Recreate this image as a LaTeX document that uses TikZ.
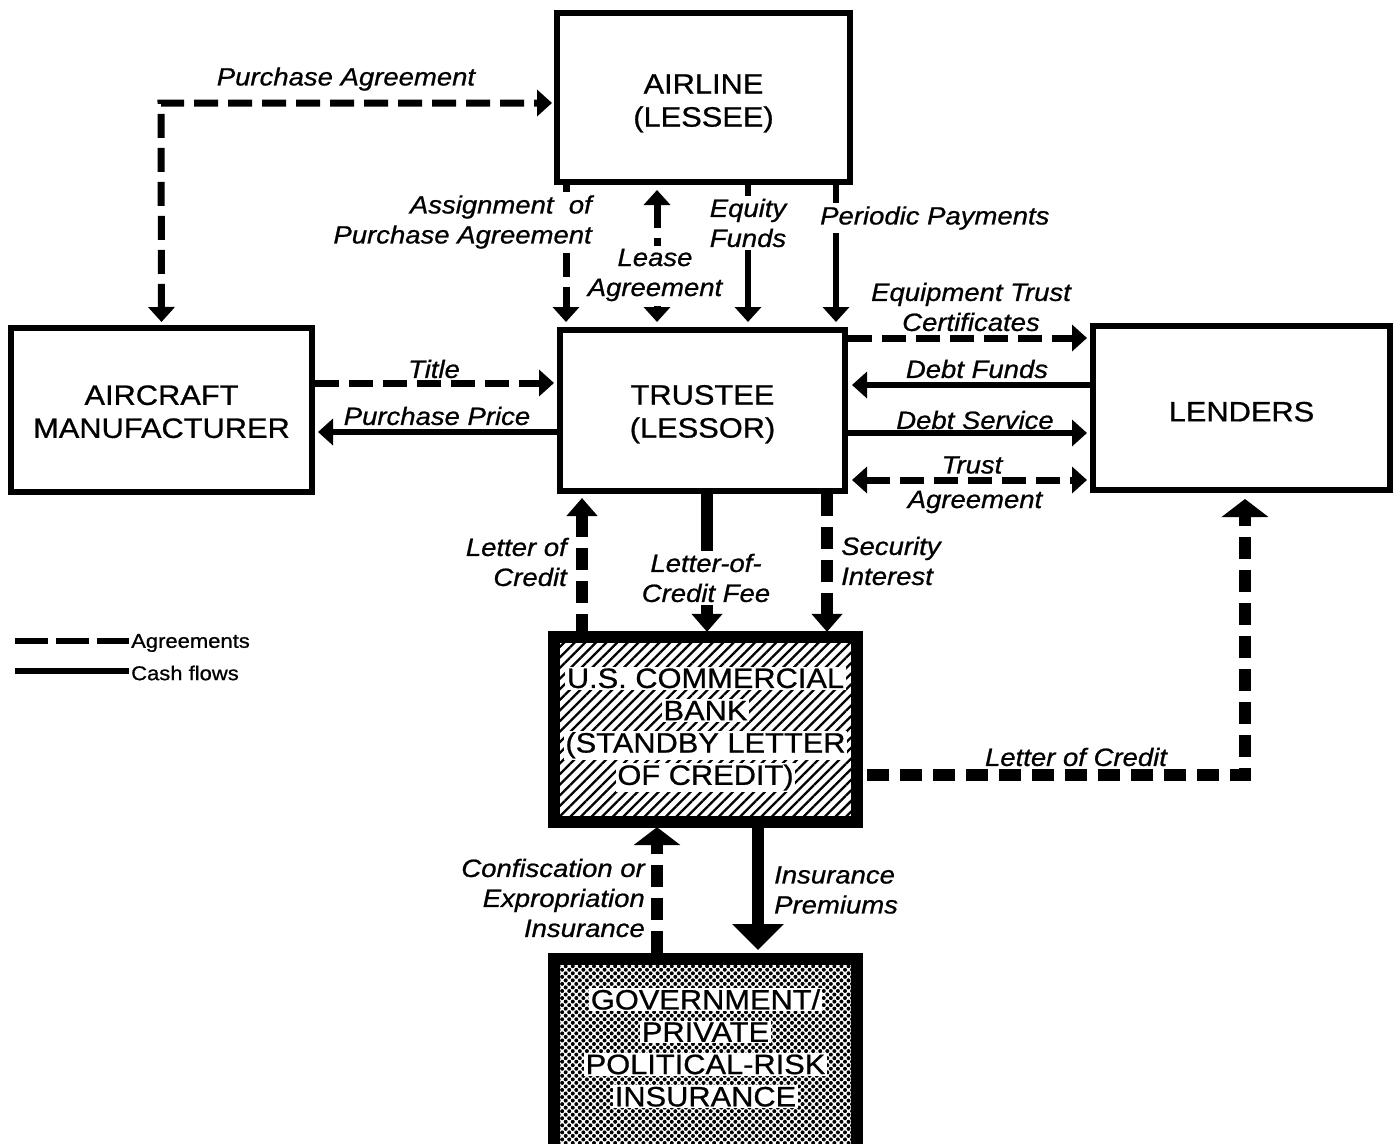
\documentclass[tikz,border=0pt]{standalone}
\usepackage{fontspec}
\setmainfont{Liberation Sans}[FakeStretch=1.1,FakeBold=0.8]
\usetikzlibrary{arrows.meta,patterns.meta}

% white patch behind a line of text sitting on a patterned fill
\newcommand\whiteback[1]{{\setlength{\fboxsep}{1.5pt}\colorbox{white}{#1}}}

\begin{document}
\begin{tikzpicture}[x=1pt,y=-1pt,
  box/.style={draw, line width=6pt, align=center, inner sep=0pt,
    font=\fontsize{28}{33}\selectfont},
  heavybox/.style={draw, line width=12pt, align=center, inner sep=0pt,
    minimum width=303pt, font=\fontsize{28}{32.3}\selectfont},
  lbl/.style={font=\fontsize{25}{30}\selectfont\itshape, inner sep=1pt, align=center},
  cut/.style={fill=white, inner sep=3pt},
  legend/.style={font=\fontsize{20}{24}\selectfont, inner sep=2pt, anchor=west},
  agree/.style={line width=7pt, dash pattern=on 24pt off 10pt},
  cash/.style={line width=6pt},
  agreeH/.style={line width=12pt, dash pattern=on 22pt off 11pt},
  cashH/.style={line width=12pt},
  tS/.style={>={Triangle[width=26pt,length=15pt]}},
  tM/.style={>={Triangle[width=30pt,length=18pt]}},
  tL/.style={>={Triangle[width=46pt,length=18pt]}},
  tP/.style={>={Triangle[width=50pt,length=26pt]}},
]
\useasboundingbox (0,0) rectangle (1396,1143);
\fill[white] (0,0) rectangle (1396,1143);
\clip (0,0) rectangle (1396,1143);

% parties (the struts set how far the text sits from the box centre)
\node[box, minimum width=293pt, minimum height=169pt] (airline) at (703.5,97.5)
  {\rule{0pt}{31pt}AIRLINE\\(LESSEE)};
\node[box, minimum width=301pt, minimum height=164pt] (mfr) at (161.5,410)
  {\rule{0pt}{23pt}AIRCRAFT\\MANUFACTURER};
\node[box, minimum width=285pt, minimum height=161pt] (trustee) at (702.5,410.5)
  {\rule{0pt}{27pt}TRUSTEE\\(LESSOR)};
\node[box, minimum width=297pt, minimum height=164pt] (lenders) at (1241.5,408)
  {\rule{0pt}{27pt}LENDERS};
\node[heavybox, minimum height=185pt,
      pattern={Lines[angle=45,distance=7.5pt,line width=2.3pt]}] (bank) at (705.5,729.5)
  {\whiteback{U.S. COMMERCIAL}\\\whiteback{BANK}\\\whiteback{(STANDBY LETTER}\\\whiteback{OF CREDIT)}};
% the insurer's box runs on past the lower edge of the sheet
\node[heavybox, minimum height=200pt,
      pattern={Dots[distance=5pt,radius=2pt,angle=45]}] (insur) at (705.5,1059)
  {\whiteback{GOVERNMENT/}\\\whiteback{PRIVATE}\\\whiteback{POLITICAL-RISK}\\\whiteback{INSURANCE}\rule[-24pt]{0pt}{1pt}};

% connector positions
\coordinate (pa) at (161,103);
\coordinate (xAsg) at (566,0);
\coordinate (xLease) at (657,0);
\coordinate (xEq) at (748,0);
\coordinate (xPer) at (836,0);
\coordinate (yETC) at (0,338);
\coordinate (yDF) at (0,385);
\coordinate (yDS) at (0,433);
\coordinate (yTA) at (0,480);
\coordinate (yTitle) at (0,383);
\coordinate (yPP) at (0,432);
\coordinate (xLC) at (582,0);
\coordinate (xFee) at (707,0);
\coordinate (xSI) at (827,0);
\coordinate (lcB) at (1245,775);
\coordinate (xConf) at (657,0);
\coordinate (xPrem) at (758,0);

% airline, manufacturer, trustee, lenders
\draw[agree, tS, <->, shorten <=3pt, shorten >=2pt] (mfr.north) -- (pa) -- (pa -| airline.west);
\draw[agree, tS, ->, shorten >=5pt] (airline.south -| xAsg) -- (trustee.north -| xAsg);
\draw[agree, tS, <->, shorten <=5pt, shorten >=5pt] (airline.south -| xLease) -- (trustee.north -| xLease);
\draw[cash, tS, ->, shorten >=5pt] (airline.south -| xEq) -- (trustee.north -| xEq);
\draw[cash, tS, ->, shorten >=5pt] (airline.south -| xPer) -- (trustee.north -| xPer);
\draw[agree, tS, ->, shorten >=3pt] (trustee.east |- yETC) -- (lenders.west |- yETC);
\draw[cash, tS, <-, shorten <=4pt] (trustee.east |- yDF) -- (lenders.west |- yDF);
\draw[cash, tS, ->, shorten >=3pt] (trustee.east |- yDS) -- (lenders.west |- yDS);
\draw[agree, tS, <->, shorten <=4pt, shorten >=3pt] (trustee.east |- yTA) -- (lenders.west |- yTA);
\draw[agree, tS, ->, shorten >=3pt] (mfr.east |- yTitle) -- (trustee.west |- yTitle);
\draw[cash, tS, <-, shorten <=3pt] (mfr.east |- yPP) -- (trustee.west |- yPP);

% bank and insurer
\draw[agreeH, tM, ->, shorten >=4pt] (bank.north -| xLC) -- (trustee.south -| xLC);
\draw[cashH, tM, ->, shorten >=4pt] (trustee.south -| xFee) -- (bank.north -| xFee);
\draw[agreeH, tM, ->, shorten >=4pt] (trustee.south -| xSI) -- (bank.north -| xSI);
\draw[agreeH, tL, ->, shorten <=9pt, shorten >=6pt] (bank.east |- lcB) -- (lcB) -- (lcB |- lenders.south);
\draw[agreeH, tL, ->, shorten >=4pt] (insur.north -| xConf) -- (bank.south -| xConf);
\draw[cashH, tP, ->, shorten >=3pt] (bank.south -| xPrem) -- (insur.north -| xPrem);

% labels
\node[lbl] (lPA) at (346,79) {Purchase Agreement};
\node[lbl, cut, align=right, anchor=east] (lAsg) at (595,222) {Assignment\ \ of\hspace{7pt}\\Purchase Agreement};
\node[lbl, cut] (lLease) at (655,275) {Lease\\Agreement};
\node[lbl, cut] (lEq) at (748,223) {Equity\\Funds};
\node[lbl, cut, anchor=west] (lPer) at (817,218) {Periodic Payments};
\node[lbl] (lETC) at (971,307) {Equipment Trust\\Certificates};
\node[lbl] (lDF) at (977,369) {Debt Funds};
\node[lbl] (lDS) at (975,420) {Debt Service};
\node[lbl] (lTr) at (972,465) {Trust};
\node[lbl] (lTA) at (975,502) {Agreement};
\node[lbl] (lTi) at (434,369) {Title};
\node[lbl] (lPP) at (437,416) {Purchase Price};
\node[lbl, align=right, anchor=east] (lLC) at (568,562) {Letter of\\Credit};
\node[lbl, cut] (lFee) at (706,578) {Letter-of-\\Credit Fee};
\node[lbl, align=left, anchor=west] (lSI) at (840,561) {Security\\Interest};
\node[lbl] (lLC2) at (1076,757) {Letter of Credit};
\node[lbl, align=right, anchor=east] (lConf) at (646,898) {Confiscation or\\Expropriation\\Insurance};
\node[lbl, align=left, anchor=west] (lPrem) at (773,890) {Insurance\\Premiums};

% legend
\coordinate (lgA) at (15,641);
\coordinate (lgC) at (15,671);
\node[legend] (legAgr) at (129,643) {Agreements};
\node[legend] (legCash) at (129,673) {Cash flows};
\draw[line width=6pt, dash pattern=on 33pt off 8pt] (lgA) -- (legAgr.west |- lgA);
\draw[line width=6pt] (lgC) -- (legCash.west |- lgC);
\end{tikzpicture}
\end{document}
